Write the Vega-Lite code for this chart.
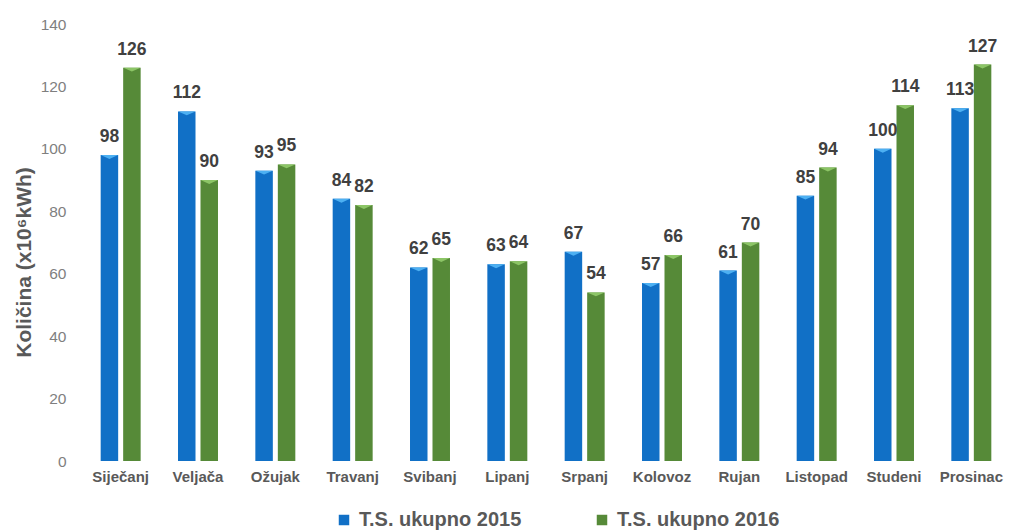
{
  "$schema": "https://vega.github.io/schema/vega-lite/v6.json",
  "width": 928,
  "height": 437,
  "autosize": {"type": "none"},
  "padding": {"left": 82, "top": 24, "right": 0, "bottom": 69},
  "background": "white",
  "config": {
    "view": {"stroke": null},
    "font": "Liberation Sans"
  },
  "data": {
    "values": [
      {"mjesec": "Siječanj", "serija": "T.S. ukupno 2015", "v": 98},
      {"mjesec": "Veljača", "serija": "T.S. ukupno 2015", "v": 112},
      {"mjesec": "Ožujak", "serija": "T.S. ukupno 2015", "v": 93},
      {"mjesec": "Travanj", "serija": "T.S. ukupno 2015", "v": 84},
      {"mjesec": "Svibanj", "serija": "T.S. ukupno 2015", "v": 62},
      {"mjesec": "Lipanj", "serija": "T.S. ukupno 2015", "v": 63},
      {"mjesec": "Srpanj", "serija": "T.S. ukupno 2015", "v": 67},
      {"mjesec": "Kolovoz", "serija": "T.S. ukupno 2015", "v": 57},
      {"mjesec": "Rujan", "serija": "T.S. ukupno 2015", "v": 61},
      {"mjesec": "Listopad", "serija": "T.S. ukupno 2015", "v": 85},
      {"mjesec": "Studeni", "serija": "T.S. ukupno 2015", "v": 100},
      {"mjesec": "Prosinac", "serija": "T.S. ukupno 2015", "v": 113},
      {"mjesec": "Siječanj", "serija": "T.S. ukupno 2016", "v": 126},
      {"mjesec": "Veljača", "serija": "T.S. ukupno 2016", "v": 90},
      {"mjesec": "Ožujak", "serija": "T.S. ukupno 2016", "v": 95},
      {"mjesec": "Travanj", "serija": "T.S. ukupno 2016", "v": 82},
      {"mjesec": "Svibanj", "serija": "T.S. ukupno 2016", "v": 65},
      {"mjesec": "Lipanj", "serija": "T.S. ukupno 2016", "v": 64},
      {"mjesec": "Srpanj", "serija": "T.S. ukupno 2016", "v": 54},
      {"mjesec": "Kolovoz", "serija": "T.S. ukupno 2016", "v": 66},
      {"mjesec": "Rujan", "serija": "T.S. ukupno 2016", "v": 70},
      {"mjesec": "Listopad", "serija": "T.S. ukupno 2016", "v": 94},
      {"mjesec": "Studeni", "serija": "T.S. ukupno 2016", "v": 114},
      {"mjesec": "Prosinac", "serija": "T.S. ukupno 2016", "v": 127}
    ]
  },
  "encoding": {
    "x": {
      "field": "mjesec",
      "type": "nominal",
      "sort": null,
      "scale": {"paddingInner": 0.483, "paddingOuter": 0.2415},
      "axis": {
        "title": null,
        "labelAngle": 0,
        "domain": false,
        "ticks": false,
        "labelPadding": 8,
        "labelFont": "Liberation Sans",
        "labelFontSize": 15,
        "labelFontWeight": "bold",
        "labelColor": "#595959"
      }
    },
    "xOffset": {
      "field": "serija",
      "type": "nominal",
      "scale": {"paddingInner": 0.222, "paddingOuter": 0}
    },
    "y": {
      "field": "v",
      "type": "quantitative",
      "scale": {"domain": [0, 140], "nice": false},
      "axis": {
        "title": "Količina (x10⁶kWh)",
        "titleFont": "Liberation Sans",
        "titleFontSize": 21,
        "titleFontWeight": "bold",
        "titleColor": "#595959",
        "titleAngle": -90,
        "titleX": -58,
        "titleY": 238,
        "titleAlign": "center",
        "titleBaseline": "middle",
        "values": [0, 20, 40, 60, 80, 100, 120, 140],
        "domain": false,
        "ticks": false,
        "grid": false,
        "labelPadding": 16,
        "labelFont": "Liberation Sans",
        "labelFontSize": 15.5,
        "labelColor": "#7f7f7f"
      }
    }
  },
  "layer": [
    {
      "mark": {"type": "bar"},
      "encoding": {
        "color": {
          "field": "serija",
          "type": "nominal",
          "scale": {
            "domain": ["T.S. ukupno 2015", "T.S. ukupno 2016"],
            "range": ["#1170C6", "#568A38"]
          },
          "legend": {
            "title": null,
            "orient": "none",
            "direction": "horizontal",
            "legendX": 252,
            "legendY": 486,
            "symbolType": "square",
            "symbolSize": 110,
            "symbolStrokeWidth": 0,
            "symbolOffset": 0,
            "labelOffset": 5,
            "columnPadding": 70,
            "labelFont": "Liberation Sans",
            "labelFontSize": 20,
            "labelFontWeight": "bold",
            "labelColor": "#595959",
            "labelLimit": 300
          }
        }
      }
    },
    {
      "mark": {
        "type": "point",
        "shape": "M-1,0L1,0L0,0.45Z",
        "size": 300,
        "filled": true,
        "opacity": 1
      },
      "encoding": {
        "color": {
          "field": "serija",
          "type": "nominal",
          "scale": null,
          "legend": null
        },
        "fill": {
          "field": "serija",
          "type": "nominal",
          "scale": {
            "domain": ["T.S. ukupno 2015", "T.S. ukupno 2016"],
            "range": ["#4DB0F2", "#8CC566"]
          },
          "legend": null
        }
      }
    },
    {
      "mark": {
        "type": "text",
        "baseline": "alphabetic",
        "dy": -13,
        "font": "Liberation Sans",
        "fontSize": 17.5,
        "fontWeight": "bold",
        "color": "#404040"
      },
      "encoding": {
        "text": {"field": "v", "type": "quantitative"}
      }
    }
  ]
}
